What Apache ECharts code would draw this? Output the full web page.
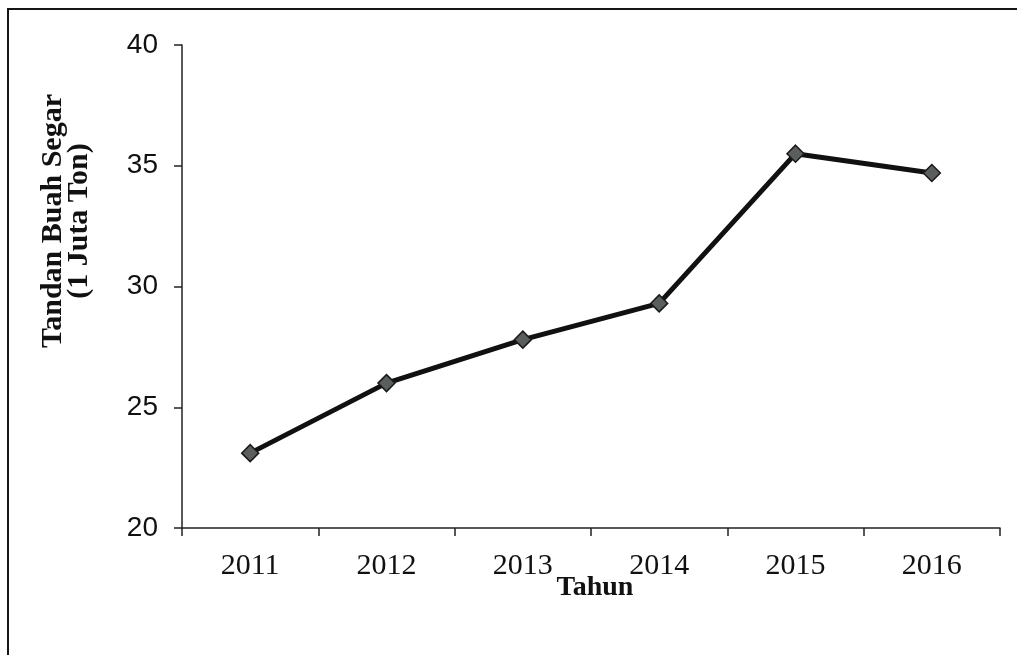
<!DOCTYPE html>
<html>
<head>
<meta charset="utf-8">
<script src="https://cdn.jsdelivr.net/npm/echarts@6/dist/echarts.min.js"></script>
<style>
  html, body { margin: 0; padding: 0; background: #fff; }
  #chart { width: 1017px; height: 655px; }
</style>
</head>
<body>
<div id="chart"></div>
<script>
const years = ["2011", "2012", "2013", "2014", "2015", "2016"];
const tbsValues = [23.1, 26.0, 27.8, 29.3, 35.5, 34.7];
const yTicks = [20, 25, 30, 35, 40];

const myChart = echarts.init(document.getElementById("chart"));

myChart.setOption({
  backgroundColor: "#fff",
  animation: false,
  grid: {
    left: 182,
    right: 17,
    top: 45,
    bottom: 127
  },
  graphic: [
    {
      type: "rect",
      shape: { x: 8, y: 9, width: 1200, height: 800 },
      style: { fill: "none", stroke: "#151515", lineWidth: 2 }
    },
    {
      // two line y title, not centred on the axis so drawn by hand
      type: "text",
      x: 66,
      y: 221,
      rotation: Math.PI / 2,
      style: {
        text: "Tandan Buah Segar\n(1 Juta Ton)",
        fontFamily: "Liberation Serif",
        fontWeight: "bold",
        fontSize: 30,
        lineHeight: 26,
        fill: "#111",
        align: "center",
        verticalAlign: "middle"
      }
    }
  ],
  xAxis: {
    type: "category",
    data: years,
    boundaryGap: true,
    name: "Tahun",
    nameLocation: "middle",
    nameGap: 46,
    nameMoveOverlap: false,
    nameTextStyle: {
      fontFamily: "Liberation Serif",
      fontWeight: "bold",
      fontSize: 28,
      color: "#111",
      padding: [0, 0, 0, 8]
    },
    axisLine: { lineStyle: { color: "#222", width: 1.5 } },
    axisTick: { show: true, length: 8, lineStyle: { color: "#222", width: 1.5 } },
    axisLabel: {
      margin: 23,
      fontFamily: "Liberation Serif",
      fontSize: 30,
      color: "#111"
    },
    splitLine: { show: false }
  },
  yAxis: {
    type: "value",
    min: yTicks[0],
    max: yTicks[yTicks.length - 1],
    interval: 5,
    axisLine: { show: true, lineStyle: { color: "#222", width: 1.5 } },
    axisTick: { show: true, length: 8, lineStyle: { color: "#222", width: 1.5 } },
    axisLabel: {
      margin: 24,
      fontFamily: "Liberation Sans",
      fontSize: 28,
      color: "#111"
    },
    splitLine: { show: false }
  },
  series: [
    {
      type: "line",
      data: tbsValues,
      symbol: "diamond",
      symbolSize: 17,
      lineStyle: { color: "#111", width: 5 },
      itemStyle: { color: "#5a5e5c", borderColor: "#1a1a1a", borderWidth: 1.5 }
    }
  ]
});
</script>
</body>
</html>
